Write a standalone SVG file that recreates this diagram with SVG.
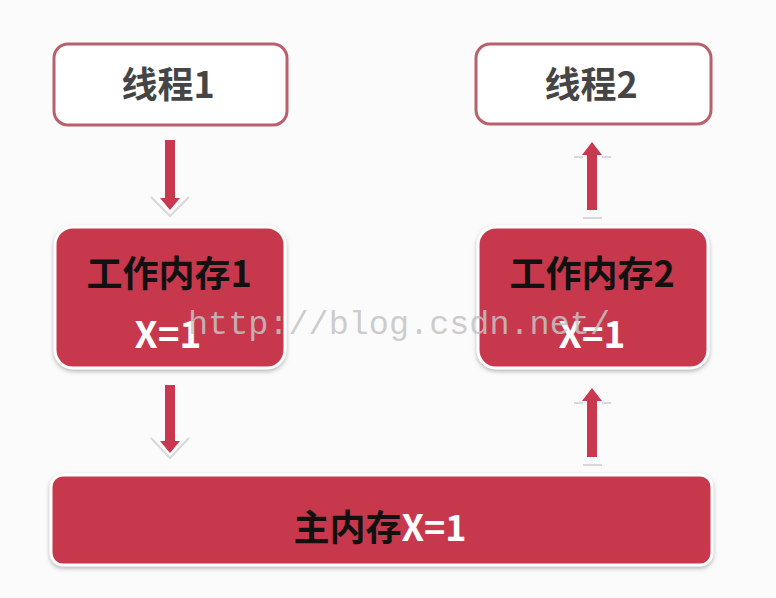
<svg xmlns="http://www.w3.org/2000/svg" width="776" height="598" viewBox="0 0 776 598">
<defs>
<filter id="sh" x="-10%" y="-10%" width="120%" height="130%">
<feDropShadow dx="0" dy="2" stdDeviation="2" flood-color="#888" flood-opacity="0.6"/>
</filter>
<style>
.thread{fill:#fff;stroke:#b8606c;stroke-width:3}
.mem{fill:#c8384e;stroke:#fff;stroke-width:3;filter:url(#sh)}
.t{font-family:"Noto Sans CJK SC","Liberation Sans",sans-serif;font-weight:bold;text-anchor:middle}
.gray{fill:#454545;font-size:36px}
.blk{fill:#111;font-size:36px}
.wht{fill:#fff;font-size:37px}
.shaft{fill:#c8384e}
.chev{fill:none;stroke:#d8d8d8;stroke-width:2}
.wm{font-family:"Liberation Mono",monospace;font-size:33px;fill:#c4c4c4;fill-opacity:0.85}
</style>
</defs>
<rect width="776" height="598" fill="#fbfbfb"/>
<g id="thread1"><rect class="thread" x="54" y="44" width="233" height="81" rx="14"/><text class="t gray" x="168" y="98">线程1</text></g>
<g id="thread2"><rect class="thread" x="476" y="44" width="235" height="80" rx="14"/><text class="t gray" x="591" y="98">线程2</text></g>
<g id="work1"><rect class="mem" x="55" y="227" width="230" height="141" rx="18"/><text class="t blk" x="169" y="287">工作内存1</text><text class="t wht" x="168" y="348">X=1</text></g>
<g id="work2"><rect class="mem" x="478" y="227" width="230" height="141" rx="18"/><text class="t blk" x="592" y="287">工作内存2</text><text class="t wht" x="592" y="348">X=1</text></g>
<g id="main"><rect class="mem" x="51" y="475" width="661" height="90" rx="12"/><text class="t" x="380" y="541" font-size="36"><tspan fill="#111">主内存</tspan><tspan fill="#fff">X=1</tspan></text></g>
<g id="connectors">
<path class="chev" d="M151 197 L170 216 L189 197"/>
<path class="shaft" d="M165 140 H175 V198 H180 L170 210 L160 198 H165 Z"/>
<path class="chev" d="M151 438 L170 458 L189 438"/>
<path class="shaft" d="M165 385 H175 V441 H180 L170 453 L160 441 H165 Z"/>
<path class="chev" d="M574 157 H583 M602 157 H611 M583 218 H602"/>
<path class="shaft" d="M587 210 H597 V155 H602 L592 142 L582 155 H587 Z"/>
<path class="chev" d="M574 403 H583 M602 403 H611 M583 465 H602"/>
<path class="shaft" d="M587 457 H597 V401 H602 L592 388 L582 401 H587 Z"/>
</g>
<text class="wm" x="188" y="334" textLength="422" lengthAdjust="spacingAndGlyphs">http://blog.csdn.net/</text>
</svg>
